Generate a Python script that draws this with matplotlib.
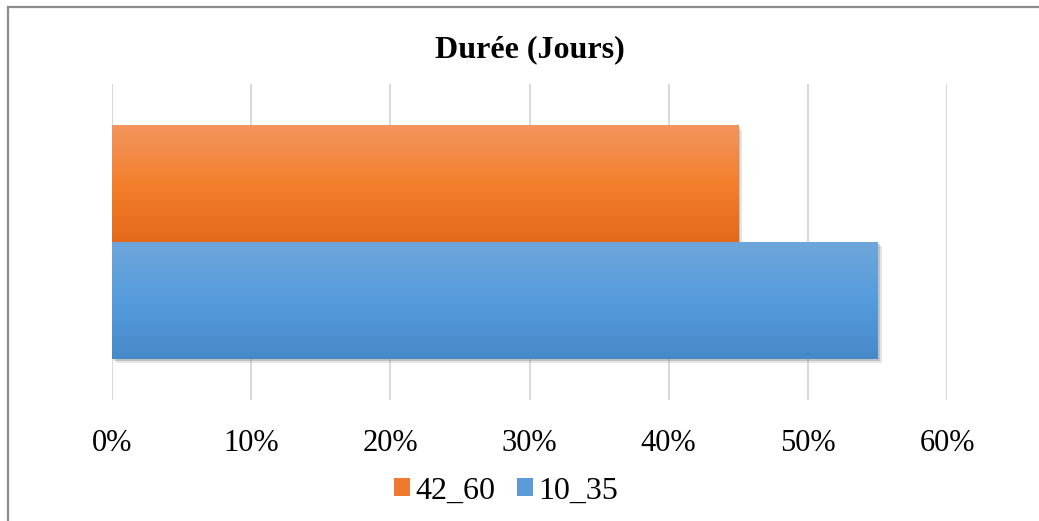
import matplotlib
matplotlib.use("Agg")
import matplotlib.pyplot as plt
import matplotlib.patches as patches
import matplotlib.patheffects as pe
from matplotlib.colors import LinearSegmentedColormap
import numpy as np

# Données
categories = ["42_60", "10_35"]
valeurs = [0.45, 0.55]
ticks = [0.0, 0.1, 0.2, 0.3, 0.4, 0.5, 0.6]
tick_labels = ["0%", "10%", "20%", "30%", "40%", "50%", "60%"]
titre = "Durée (Jours)"

# Dégradés de type Excel (haut -> bas)
degrades = {
    "42_60": ["#F2955E", "#F47F2C", "#E2691A"],
    "10_35": ["#6EA6DA", "#559CDD", "#4689C8"],
}
couleurs_legende = {"42_60": "#EE7A30", "10_35": "#5A9BD8"}

plt.rcParams["font.family"] = ["Liberation Serif", "DejaVu Serif"]

fig = plt.figure(figsize=(10.39, 5.21), dpi=100)
ax = fig.add_axes([112 / 1039, 1 - 400 / 521, (947 - 112) / 1039, (400 - 84) / 521])

hauteur = 1.0
positions = [0.5, -0.5]

for cat, val, pos in zip(categories, valeurs, positions):
    barre = ax.barh(pos, val, height=hauteur, color=degrades[cat][-1],
                    zorder=2, linewidth=0)[0]
    # ombre douce à droite et en dessous
    barre.set_path_effects([
        pe.SimplePatchShadow(offset=(3, -3), shadow_rgbFace="#9A9A9A", alpha=0.25),
        pe.SimplePatchShadow(offset=(1.5, -1.5), shadow_rgbFace="#808080", alpha=0.35),
        pe.Normal()])
    cmap = LinearSegmentedColormap.from_list(cat, degrades[cat])
    grad = np.linspace(0, 1, 256).reshape(-1, 1)
    x0, y0 = barre.get_x(), barre.get_y()
    ax.imshow(grad, cmap=cmap, aspect="auto", origin="upper",
              extent=[x0, x0 + barre.get_width(), y0, y0 + barre.get_height()],
              zorder=3, interpolation="bicubic")

ecart = 0.356
ax.set_ylim(-(hauteur + ecart), hauteur + ecart)
ax.set_xlim(0, 0.6)
ax.set_xticks(ticks)
ax.set_xticklabels(tick_labels, fontsize=22)
ax.set_yticks([])
ax.tick_params(axis="x", length=0, pad=21)
ax.grid(axis="x", color="#D9D9D9", linewidth=1.5, zorder=0)
ax.set_axisbelow(True)
for s in ax.spines.values():
    s.set_visible(False)

fig.text(0.51, 1 - 50 / 521, titre, ha="center", va="center",
         fontsize=23, fontweight="bold")

poignees = [patches.Patch(facecolor=couleurs_legende[c], edgecolor="none", label=c)
            for c in categories]
fig.legend(handles=poignees, loc="center", bbox_to_anchor=(506 / 1039, 1 - 491 / 521),
           ncol=2, frameon=False, fontsize=23, handlelength=0.5, handleheight=0.5,
           handletextpad=0.15, columnspacing=0.7)

# Cadre du graphique
cadre = patches.Rectangle((7.5 / 1039, -0.1), 1.2, 1 - 6.5 / 521 + 0.1,
                          transform=fig.transFigure, fill=False,
                          edgecolor="#8C8C8C", linewidth=1.6)
fig.patches.append(cadre)

fig.savefig("out.png", dpi=100)
